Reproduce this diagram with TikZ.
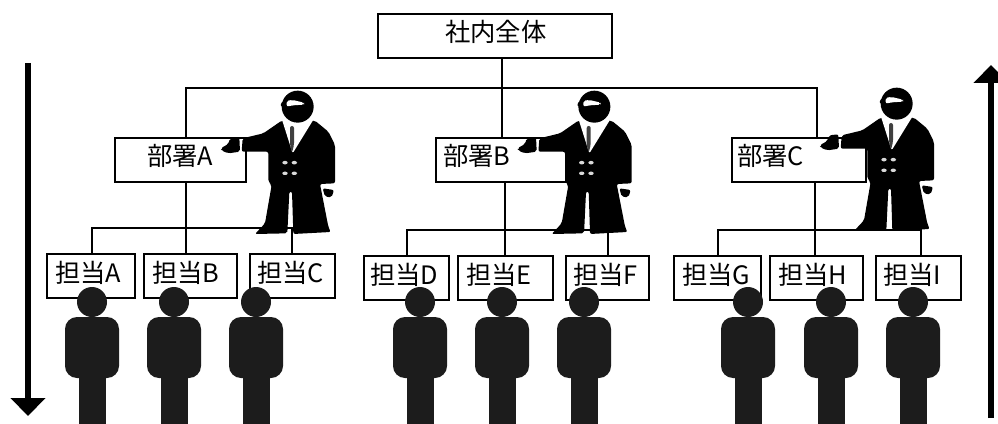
\documentclass[tikz,border=0pt]{standalone}
\usepackage{fontspec}
\setmainfont{Noto Sans CJK JP}
\usetikzlibrary{arrows.meta}
\definecolor{staffgray}{RGB}{28,28,28}
\tikzset{
  orgbox/.style n args={2}{draw, fill=white, line width=1.5, anchor=north west, font=\fontsize{19}{20}\selectfont,
    inner ysep=0pt, outer sep=0pt, text height=21pt, text depth=12pt, align=left,
    inner xsep=#2*0.75pt, text width=(#1-2*#2)*0.75pt},
  orgline/.style={line width=1.5},
  flowarrow/.style={line width=4.5, -{Triangle[length=13.5pt,width=25.5pt]}},
  staff/.pic={
    \begin{scope}[yscale=-1]
    \fill[staffgray] (0,-15) circle [radius=15];
    \fill[staffgray, rounded corners=9] (-27,0) rectangle (27,61);
    \fill[staffgray] (-13.5,55) rectangle (13.5,107);
    \end{scope}
  },
  manager/.pic={
    \begin{scope}[scale=1/3,yscale=-1,rounded corners=1.5pt]
    %coat and trousers
    \fill (428,175) -- (490,160) -- (545,122) -- (645,122) -- (685,155) -- (705,195) -- (705,310) -- (660,312) -- (685,440) -- (692,456) -- (580,462) -- (576,335) -- (568,335) -- (562,460) -- (465,462) -- (495,430) -- (515,315) -- (505,305) -- (505,215) -- (425,215) -- cycle;
    %hands
    \fill (362,205) -- (385,192) -- (390,175) -- (418,172) -- (420,215) -- (385,220) -- (365,212) -- cycle;
    \fill (668,325) -- (702,330) -- (695,352) -- (675,350) -- cycle;
    %shirt and tie
    \fill[white] (545,116) -- (578,220) -- (642,116) -- cycle;
    \fill[black!75] (570,138) -- (582,138) -- (582,195) -- (576,218) -- (570,195) -- cycle;
    %head
    \fill (593,80) circle [radius=48];
    \fill (548,62) -- (552,80) -- (540,78) -- cycle;
    \fill[white] (560,62) -- (578,60) -- (612,68) -- (612,74) -- (578,76) -- (560,80) -- cycle;
    %buttons
    \foreach \bx in {547,575} \foreach \by in {243,275}
      \fill[black!15] (\bx,\by) rectangle ++(16,10);
    \end{scope}
  }
}

\begin{document}
\begin{tikzpicture}[x=0.75pt,y=0.75pt,yscale=-1,xscale=1]
\useasboundingbox (0,0) rectangle (998,424);
\path[fill=white] (0,0) rectangle (998,424);

%Flow arrows
\coordinate (downstart) at (28,63);
\coordinate (downend) at (28,416);
\coordinate (upstart) at (991,418);
\coordinate (upend) at (991,65);
\draw[flowarrow] (downstart) -- (downend);
\draw[flowarrow] (upstart) -- (upend);

%Boxes
\node[orgbox={234}{67}] (all) at (378,14) {社内全体};
\node[orgbox={131}{32}] (deptA) at (115,138) {部署A};
\node[orgbox={130}{7}] (deptB) at (436,138) {部署B};
\node[orgbox={134}{5}] (deptC) at (732,138) {部署C};
\node[orgbox={88}{8}] (staffA) at (47,254) {担当A};
\node[orgbox={93}{8}] (staffB) at (144,254) {担当B};
\node[orgbox={85}{7}] (staffC) at (250,254) {担当C};
\node[orgbox={85}{6}] (staffD) at (364,256) {担当D};
\node[orgbox={95}{8}] (staffE) at (458,256) {担当E};
\node[orgbox={83}{7}] (staffF) at (566,256) {担当F};
\node[orgbox={87}{8}] (staffG) at (674,256) {担当G};
\node[orgbox={93}{8}] (staffH) at (770,256) {担当H};
\node[orgbox={85}{7}] (staffI) at (876,256) {担当I};

%Connectors
\coordinate (topbus) at (502,88);
\coordinate (topA) at (186,88);
\coordinate (topC) at (817,88);
\draw[orgline] (all.south -| topbus) -- (topbus);
\draw[orgline] (topA |- deptA.north) -- (topA) -- (topC) -- (topC |- deptC.north);
\draw[orgline] (topbus) -- (topbus |- deptB.north);
\foreach \dept/\one/\two/\three/\lx/\mx/\rx/\busy in {
  deptA/staffA/staffB/staffC/92/186/292/228,
  deptB/staffD/staffE/staffF/407/505/608/230,
  deptC/staffG/staffH/staffI/718/815/921/230}{
  \coordinate (busl) at (\lx,\busy);
  \coordinate (busm) at (\mx,\busy);
  \coordinate (busr) at (\rx,\busy);
  \draw[orgline] (busm |- \dept.south) -- (busm |- \two.north);
  \draw[orgline] (busl |- \one.north) -- (busl) -- (busr) -- (busr |- \three.north);
}

%Managers
\pic at (100,80) {manager};
\pic at (396.7,80) {manager};
\pic at (699,77) {manager};

%Staff figures
\foreach \sx in {92,174,256,420,502,584,748,831,913}
  \pic at (\sx,317) {staff};

\end{tikzpicture}
\end{document}
